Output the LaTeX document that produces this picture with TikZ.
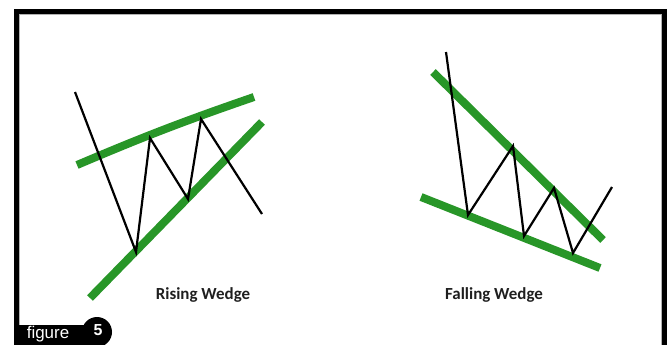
\documentclass[tikz,border=0pt]{standalone}
\usepackage{fontspec}
\setmainfont{Carlito}
\newfontfamily\tabfont{Liberation Sans}
\definecolor{wedgegreen}{RGB}{40,150,40}
\begin{document}
\begin{tikzpicture}[x=1bp, y=-1bp,
		trend/.style = {line width=8bp, draw=wedgegreen},
		price/.style = {line width=2.2bp, draw=black, line join=miter},
		caption/.style = {font=\bfseries\fontsize{17}{19}\selectfont, text=black!88},
		pt/.style = {inner sep=0pt, minimum size=0pt}
		]
	\useasboundingbox (0,0) rectangle (667,344);
	\clip (0,0) rectangle (667,344);
	
	%Frame
	\draw[line width=5bp] (16.5,360) -- (16.5,11) -- (664.5,11) -- (664.5,360);
	\draw[black!30, line width=1bp] (19.5,360) -- (19.5,14) -- (661.5,14) -- (661.5,360);
	
	%Rising wedge points
	\coordinate (ru1) at (77,165);
	\coordinate (ru2) at (254,97);
	\coordinate (rl1) at (90,298);
	\coordinate (rl2) at (262,122);
	\coordinate (r0) at (75,92);
	\coordinate (r1) at (136,252);
	\coordinate (r2) at (150,138);
	\coordinate (r3) at (188,199);
	\coordinate (r4) at (201,119);
	\coordinate (r5) at (262,214);
	
	%Falling wedge points
	\coordinate (fu1) at (433,72);
	\coordinate (fu2) at (603,240);
	\coordinate (fl1) at (421,197);
	\coordinate (fl2) at (600,268);
	\coordinate (f0) at (446,52);
	\coordinate (f1) at (468,215);
	\coordinate (f2) at (513,146);
	\coordinate (f3) at (524,236);
	\coordinate (f4) at (554,188);
	\coordinate (f5) at (573,253);
	\coordinate (f6) at (612,187);
	
	%Lines
	\draw[trend] (ru1) to[bend left=2] (ru2);
	\draw[trend] (rl1) -- (rl2);
	\draw[price] (r0) -- (r1) -- (r2) -- (r3) -- (r4) -- (r5);
	\draw[trend] (fu1) -- (fu2);
	\draw[trend] (fl1) -- (fl2);
	\draw[price] (f0) -- (f1) -- (f2) -- (f3) -- (f4) -- (f5) -- (f6);
	
	%Nodes
	\node[caption] (rise) at (203,295) {Rising Wedge};
	\node[caption] (fall) at (494,295) {Falling Wedge};
	
	%Tab
	\fill[black] (14,325) rectangle (97,350);
	\fill[black] (97,332) circle (15);
	\node[text=white, inner sep=0pt, font=\tabfont\fontsize{17}{17}\selectfont] (tab) at (48,334.5) {figure};
	\node[text=white, font=\tabfont\bfseries\fontsize{16}{16}\selectfont] (num) at (98,330) {5};
\end{tikzpicture}
\end{document}
